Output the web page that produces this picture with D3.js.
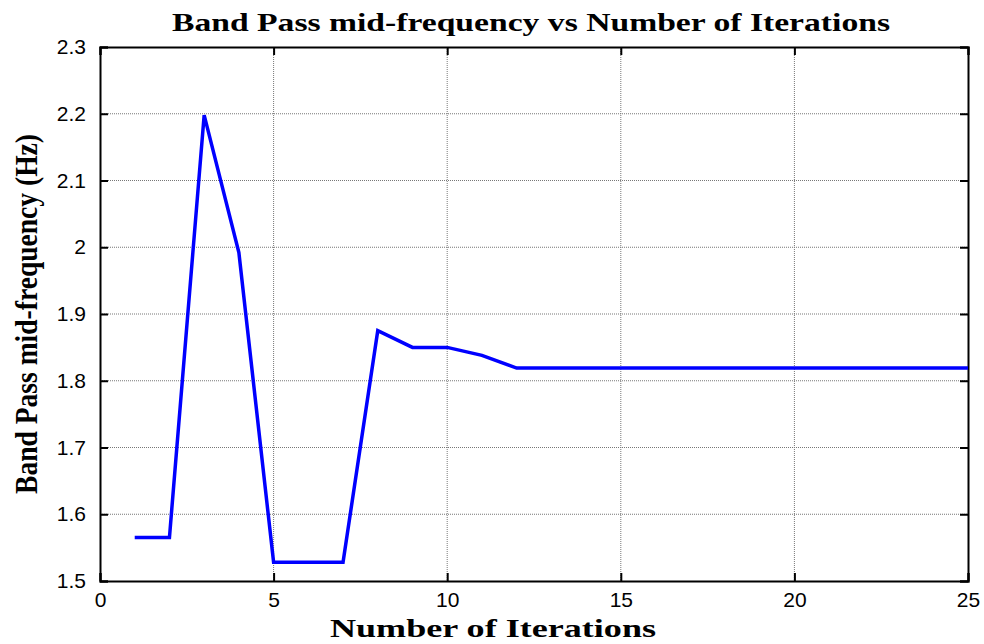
<!DOCTYPE html>
<html>
<head>
<meta charset="utf-8">
<script src="https://cdn.jsdelivr.net/npm/d3@7"></script>
<style>
  html, body { margin: 0; padding: 0; background: #fff; }
  svg { display: block; }
</style>
</head>
<body>
<div id="chart"></div>
<script>
// data
const iterations = d3.range(1, 26);
const midFrequency = [
  1.565, 1.565, 2.198, 1.992, 1.528, 1.528, 1.528, 1.875, 1.850, 1.850,
  1.838, 1.819, 1.819, 1.819, 1.819, 1.819, 1.819, 1.819, 1.819, 1.819,
  1.819, 1.819, 1.819, 1.819, 1.819
];
const xTicks = [0, 5, 10, 15, 20, 25];
const yTicks = [1.5, 1.6, 1.7, 1.8, 1.9, 2, 2.1, 2.2, 2.3];

const width = 984, height = 644;
const margin = { top: 47, right: 16, bottom: 63, left: 100 };
const w = width - margin.left - margin.right;
const h = height - margin.top - margin.bottom;

const svg = d3.select('#chart')
  .append('svg')
  .attr('width', width)
  .attr('height', height);

const g = svg.append('g')
  .attr('transform', `translate(${margin.left},${margin.top})`);

const x = d3.scaleLinear().domain([0, 25]).range([0, w]);
const y = d3.scaleLinear().domain([1.5, 2.3]).range([h, 0]);

// grid
g.append('g')
  .selectAll('line')
  .data(xTicks.slice(1, -1))
  .join('line')
  .attr('x1', d => x(d)).attr('x2', d => x(d))
  .attr('y1', 0).attr('y2', h)
  .attr('stroke', '#777')
  .attr('stroke-width', 1)
  .attr('stroke-dasharray', '1,1');

g.append('g')
  .selectAll('line')
  .data(yTicks.slice(1, -1))
  .join('line')
  .attr('x1', 0).attr('x2', w)
  .attr('y1', d => y(d)).attr('y2', d => y(d))
  .attr('stroke', '#777')
  .attr('stroke-width', 1)
  .attr('stroke-dasharray', '1,1');

// axes, ticks pointing inward (MATLAB style), mirrored on top/right
const tickLen = 8;
g.append('g')
  .attr('transform', `translate(0,${h})`)
  .call(d3.axisBottom(x).tickValues(xTicks).tickSize(-tickLen).tickPadding(tickLen + 3));
g.append('g')
  .call(d3.axisLeft(y).tickValues(yTicks).tickSize(-tickLen).tickPadding(tickLen + 6)
    .tickFormat(d3.format('')));
g.append('g')
  .call(d3.axisTop(x).tickValues(xTicks).tickSize(-tickLen).tickFormat(''));
g.append('g')
  .attr('transform', `translate(${w},0)`)
  .call(d3.axisRight(y).tickValues(yTicks).tickSize(-tickLen).tickFormat(''));

g.selectAll('.domain').attr('stroke', '#000').attr('stroke-width', 2);
g.selectAll('.tick line').attr('stroke', '#000').attr('stroke-width', 2);
g.selectAll('.tick text')
  .attr('fill', '#000')
  .style('font-family', '"Liberation Sans", Arial, sans-serif')
  .style('font-size', '21px');

// data line
g.append('path')
  .datum(iterations.map((it, i) => ({ it, v: midFrequency[i] })))
  .attr('fill', 'none')
  .attr('stroke', '#0000ff')
  .attr('stroke-width', 3.5)
  .attr('d', d3.line().x(d => x(d.it)).y(d => y(d.v)));

// title and labels
const serif = '"Liberation Serif", "Times New Roman", serif';
svg.append('text')
  .attr('x', 531)
  .attr('y', 31)
  .attr('text-anchor', 'middle')
  .attr('textLength', 718)
  .attr('lengthAdjust', 'spacingAndGlyphs')
  .style('font-family', serif)
  .style('font-weight', 'bold')
  .style('font-size', '26px')
  .text('Band Pass mid-frequency vs Number of Iterations');

svg.append('text')
  .attr('x', 493)
  .attr('y', 637)
  .attr('text-anchor', 'middle')
  .attr('textLength', 326)
  .attr('lengthAdjust', 'spacingAndGlyphs')
  .style('font-family', serif)
  .style('font-weight', 'bold')
  .style('font-size', '26px')
  .text('Number of Iterations');

svg.append('text')
  .attr('transform', `translate(37,${margin.top + h / 2}) rotate(-90)`)
  .attr('text-anchor', 'middle')
  .attr('textLength', 360)
  .attr('lengthAdjust', 'spacingAndGlyphs')
  .style('font-family', serif)
  .style('font-weight', 'bold')
  .style('font-size', '32px')
  .text('Band Pass mid-frequency (Hz)');
</script>
</body>
</html>
